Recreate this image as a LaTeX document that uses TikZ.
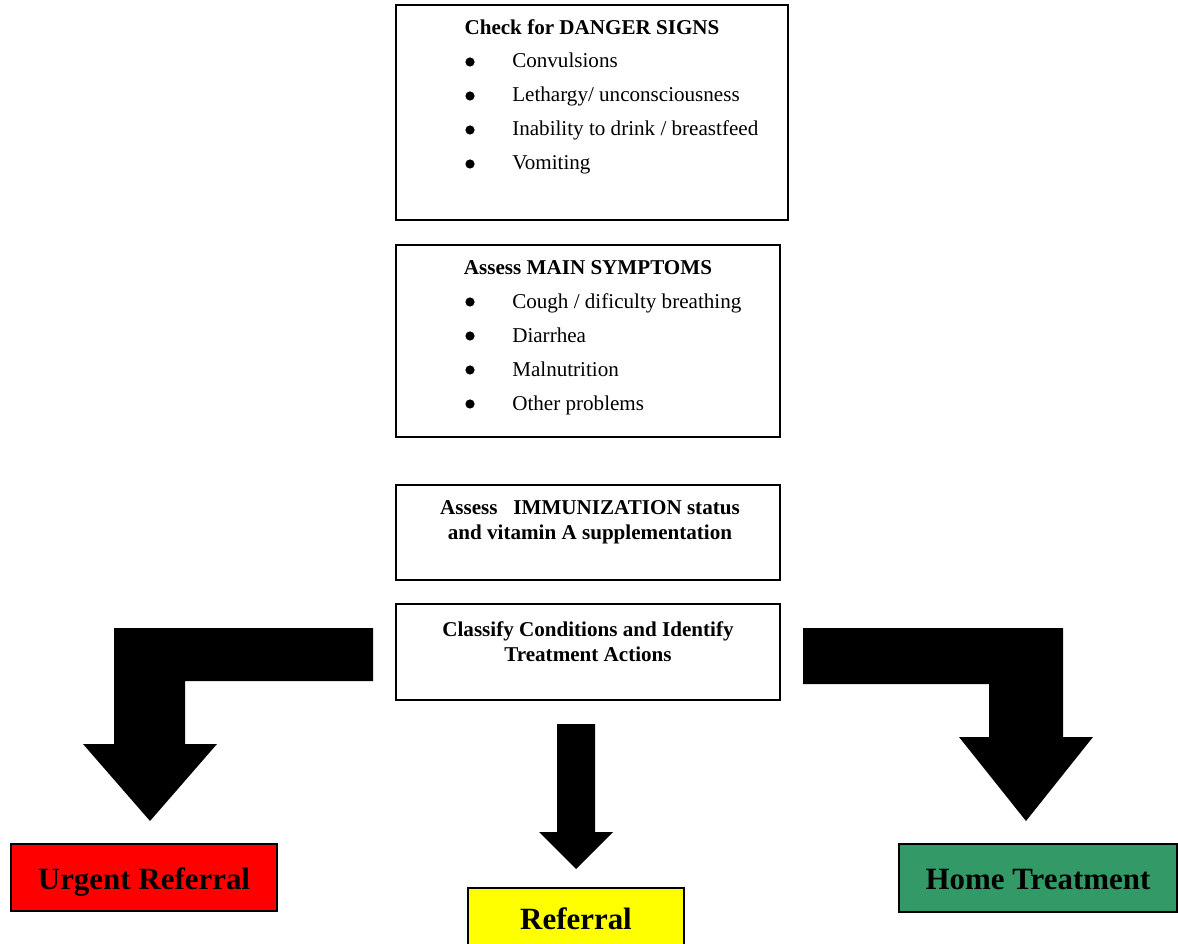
\documentclass[tikz,border=0pt]{standalone}
\usepackage{fontspec}
\setmainfont{Liberation Serif}
\usepackage{xcolor}
\usetikzlibrary{positioning, calc}

\definecolor{urgentred}{HTML}{FF0000}
\definecolor{referyellow}{HTML}{FFFF00}
\definecolor{homegreen}{HTML}{339966}

\tikzset{
    stepbox/.style={
        rectangle, draw=black, line width=1.2pt, inner sep=0pt
    },
    boxtitle/.style={
        font=\fontsize{15}{17.7}\selectfont\bfseries, inner sep=0pt, align=center
    },
    itemtext/.style={
        font=\fontsize{15}{17.7}\selectfont, inner sep=0pt, anchor=base west
    },
    bulletdot/.style={
        circle, fill=black, inner sep=0pt, minimum size=0.23cm
    },
    outcome/.style={
        rectangle, draw=black, line width=1.2pt, inner sep=0pt,
        text height=19pt, text depth=2pt,
        font=\fontsize{22}{26}\selectfont\bfseries
    },
    blockarrow/.style={
        fill=black, draw=none
    }
}

\begin{document}
\begin{tikzpicture}[x=0.025cm, y=-0.025cm]

    % --- CANVAS ---
    \clip (0,0) rectangle (1178,944);
    \useasboundingbox (0,0) rectangle (1178,944);

    % --- DANGER SIGNS ---
    \node[stepbox, minimum width=9.8cm, minimum height=5.375cm] (danger) at (592,112.5) {};
    \node[boxtitle, anchor=base] (dangertitle) at (592,35) {Check for DANGER SIGNS};
    \foreach \txt [count=\i] in {Convulsions, {Lethargy/ unconsciousness}, {Inability to drink / breastfeed}, Vomiting} {
        \node[bulletdot] (dangerdot\i) at (470,{62+34*(\i-1)}) {};
        \node[itemtext] (danger\i) at (512,{68+34*(\i-1)}) {\txt};
    }

    % --- MAIN SYMPTOMS ---
    \node[stepbox, minimum width=9.6cm, minimum height=4.8cm] (symptoms) at (588,341) {};
    \node[boxtitle, anchor=base] (symptomstitle) at (588,275) {Assess MAIN SYMPTOMS};
    \foreach \txt [count=\i] in {{Cough / dificulty breathing}, Diarrhea, Malnutrition, {Other problems}} {
        \node[bulletdot] (symptomsdot\i) at (470,{302+34*(\i-1)}) {};
        \node[itemtext] (symptoms\i) at (512,{309+34*(\i-1)}) {\txt};
    }

    % --- IMMUNIZATION ---
    \node[stepbox, minimum width=9.6cm, minimum height=2.375cm] (immun) at (588,532.5) {};
    \node[boxtitle] (immuntext) at (590,522) {Assess\ \ \ IMMUNIZATION status\\and vitamin A supplementation};

    % --- CLASSIFY ---
    \node[stepbox, minimum width=9.6cm, minimum height=2.4cm] (classify) at (588,652) {};
    \node[boxtitle] (classifytext) at (588,642) {Classify Conditions and Identify\\Treatment Actions};

    % --- OUTCOMES ---
    \node[outcome, fill=urgentred, minimum width=6.65cm, minimum height=1.675cm] (urgent) at (144,877.5) {Urgent Referral};
    \node[outcome, fill=referyellow, minimum width=5.4cm, minimum height=1.5cm] (referral) at (576,918) {Referral};
    \node[outcome, fill=homegreen, minimum width=6.95cm, minimum height=1.7cm] (home) at (1038,878) {Home Treatment};

    % --- BLOCK ARROWS ---
    \fill[blockarrow] (373,628) -- (114,628) -- (114,744) -- (83,744) -- (150,821)
        -- (217,744) -- (185,744) -- (185,681) -- (373,681) -- cycle;
    \fill[blockarrow] (557,724) -- (595,724) -- (595,832) -- (613,832) -- (576,869)
        -- (539,832) -- (557,832) -- cycle;
    \fill[blockarrow] (803,628) -- (1063,628) -- (1063,737) -- (1093,737) -- (1026,821)
        -- (959,737) -- (989,737) -- (989,684) -- (803,684) -- cycle;

\end{tikzpicture}
\end{document}
